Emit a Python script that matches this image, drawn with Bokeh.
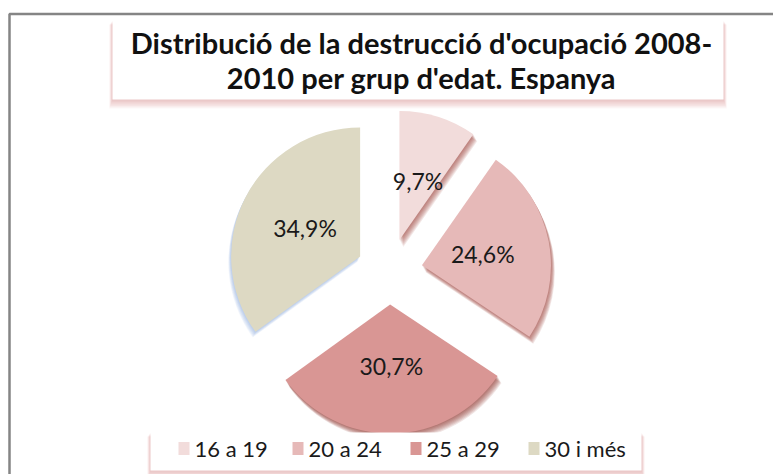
import math
from bokeh.plotting import figure
from bokeh.models import Range1d
from bokeh.core.properties import value
from bokeh.embed import file_html
from bokeh.resources import INLINE

# ---- data ----
categories = ["16 a 19", "20 a 24", "25 a 29", "30 i més"]
shares = [9.7, 24.6, 30.7, 34.9]
colors = ["#F2DCDB", "#E6B9B8", "#D99694", "#DDD9C3"]
shadow_colors = ["#9B3B38", "#9B3B38", "#8E2C2A", "#5E8FD0"]
title_lines = ["Distribució de la destrucció d'ocupació 2008-",
               "2010 per grup d'edat. Espanya"]

W, H = 773, 474
p = figure(width=W, height=H, x_range=Range1d(0, W), y_range=Range1d(0, H),
           output_backend="svg", toolbar_location=None, min_border=0,
           background_fill_color="white", border_fill_color="white")
p.axis.visible = False
p.grid.visible = False
p.outline_line_color = None

def sy(y):  # screen y (from top) -> data y
    return H - y

# chart-area border (only top/left visible; the rest is cropped)
p.quad(left=9, right=W + 20, top=sy(13.5), bottom=-20, fill_color=None,
       line_color="#858585", line_width=2.5)

def shadow_box(l, r, t, b):
    for k in range(1, 8):
        p.quad(left=l - k * 0.45, right=r + k * 0.45, top=sy(t + k * 0.6), bottom=sy(b + k * 1.3),
               fill_color="#C0504D", fill_alpha=0.05, line_color=None)
    p.quad(left=l, right=r, top=sy(t), bottom=sy(b), fill_color="white", line_color=None)

# title box
tb_l, tb_r, tb_t, tb_b = 112, 723, 20, 99
shadow_box(tb_l, tb_r, tb_t, tb_b)
tx = 421
for i, line in enumerate(title_lines):
    p.text(x=[tx], y=[sy(42 + 35 * i)], text=[line], text_align="center",
           text_baseline="middle", text_font=value("Lato"), text_font_style="bold",
           text_font_size="29px", text_color="#111111")

# ---- pie ----
cx, cy, R, EXP = 389, sy(271), 129, 33
total = sum(shares)
start = 0.0
geo = []
for i, v in enumerate(shares):
    frac = v / total
    t0, t1 = start * 2 * math.pi, (start + frac) * 2 * math.pi  # clockwise from 12 o'clock
    mid = (t0 + t1) / 2
    ox, oy = cx + EXP * math.sin(mid), cy + EXP * math.cos(mid)
    geo.append((ox, oy, math.pi / 2 - t1, math.pi / 2 - t0, mid))
    start += frac

# shadows
for i, (ox, oy, a0, a1, mid) in enumerate(geo):
    blue = i == 3
    for k in range(1, 8):
        dx = -0.4 * k if blue else 0.55 * k
        dy = -0.8 * k if blue else -1.0 * k
        p.wedge(x=[ox + dx], y=[oy + dy], radius=R, start_angle=[a0], end_angle=[a1],
                fill_color=shadow_colors[i], fill_alpha=0.07 if blue else 0.13, line_color=None)

# slices
for i, (ox, oy, a0, a1, mid) in enumerate(geo):
    p.wedge(x=[ox], y=[oy], radius=R, start_angle=[a0], end_angle=[a1],
            fill_color=colors[i], line_color=None)

# labels
for i, (ox, oy, a0, a1, mid) in enumerate(geo):
    lr = R * 0.48
    lbl = f"{shares[i]:.1f}%".replace(".", ",")
    p.text(x=[ox + lr * math.sin(mid)], y=[oy + lr * math.cos(mid)], text=[lbl],
           text_align="center", text_baseline="middle", text_font=value("Lato"),
           text_font_size="23px", text_color="#1a1a1a")

# ---- legend ----
lb_l, lb_r, lb_t, lb_b = 150, 641, 432, 470
shadow_box(lb_l, lb_r, lb_t, lb_b)
item_x = [178, 292, 410, 528]
ly = sy(448)
for i, cat in enumerate(categories):
    p.quad(left=item_x[i], right=item_x[i] + 11, top=ly + 6.5, bottom=ly - 6.5,
           fill_color=colors[i], line_color=None)
    p.text(x=[item_x[i] + 16], y=[ly], text=[cat], text_align="left", text_baseline="middle",
           text_font=value("Lato"), text_font_size="22px", text_color="#1a1a1a")

open("out.html", "w").write(file_html(p, INLINE))
